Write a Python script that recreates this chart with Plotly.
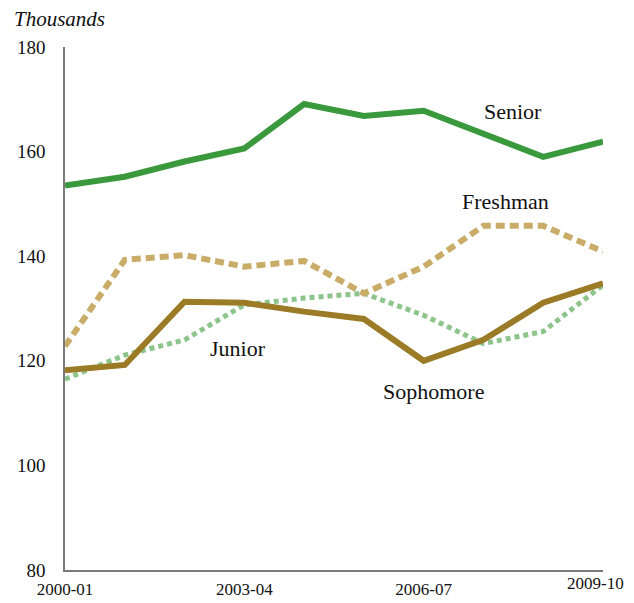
import plotly.graph_objects as go

years = ["2000-01", "2001-02", "2002-03", "2003-04", "2004-05",
         "2005-06", "2006-07", "2007-08", "2008-09", "2009-10"]
senior = [153.5, 155.2, 158.1, 160.6, 169.1, 166.8, 167.8, 163.5, 159.0, 161.9]
freshman = [122.8, 139.3, 140.2, 138.0, 139.1, 132.9, 138.0, 145.8, 145.8, 140.9]
sophomore = [118.2, 119.2, 131.3, 131.1, 129.4, 128.0, 120.0, 124.0, 131.1, 134.8]
junior = [116.5, 121.1, 124.0, 130.7, 132.0, 132.9, 128.7, 123.3, 125.6, 134.5]
tick_years = ["2000-01", "2003-04", "2006-07", "2009-10"]
y_ticks = [80, 100, 120, 140, 160, 180]

xs = list(range(len(years)))
FONT = "Liberation Serif"

fig = go.Figure()
fig.add_trace(go.Scatter(x=xs, y=junior, mode="lines", name="Junior",
                         line=dict(color="#8cc48c", width=5, dash="5px,4px")))
fig.add_trace(go.Scatter(x=xs, y=freshman, mode="lines", name="Freshman",
                         line=dict(color="#c9ac68", width=6, dash="9px,5px")))
fig.add_trace(go.Scatter(x=xs, y=sophomore, mode="lines", name="Sophomore",
                         line=dict(color="#9b7b26", width=6)))
fig.add_trace(go.Scatter(x=xs, y=senior, mode="lines", name="Senior",
                         line=dict(color="#3a993c", width=6)))

labels = [("Senior", 7.49, 167.6), ("Freshman", 7.37, 150.4),
          ("Junior", 2.89, 122.3), ("Sophomore", 6.17, 114.2)]
for text, lx, ly in labels:
    fig.add_annotation(x=lx, y=ly, text=text, showarrow=False,
                       font=dict(family=FONT, size=22, color="#111"))

fig.add_annotation(xref="paper", yref="paper", x=-0.0985, y=1.0, yshift=14,
                   text="<i>Thousands</i>", showarrow=False, xanchor="left",
                   yanchor="bottom",
                   font=dict(family=FONT, size=21, color="#111"))

# last x tick label kept inside the visible page edge
last = tick_years[-1]
fig.add_annotation(x=years.index(last), xref="x", y=0, yref="paper",
                   text=last, showarrow=False, xanchor="right", yanchor="top",
                   xshift=23, yshift=-2,
                   font=dict(family=FONT, size=17, color="#111"))
tick_text = [t if t != last else "" for t in tick_years]

fig.update_layout(
    width=626, height=595,
    margin=dict(l=57, r=31, t=39, b=33, autoexpand=False),
    plot_bgcolor="white", paper_bgcolor="white",
    showlegend=False,
    font=dict(family=FONT, size=19, color="#111"),
    xaxis=dict(range=[0, 9], tickmode="array",
               tickvals=[years.index(t) for t in tick_years], ticktext=tick_text,
               tickfont=dict(size=17),
               showgrid=False, zeroline=False, showline=True, automargin=False,
               ticklabeloverflow="allow",
               linecolor="#7a7a7a", linewidth=1.5, ticks="", ticklabelstandoff=3),
    yaxis=dict(range=[80, 180], tickmode="array", tickvals=y_ticks,
               showgrid=False, zeroline=False, showline=True, automargin=False,
               ticklabeloverflow="allow",
               linecolor="#7a7a7a", linewidth=1.5, ticks="", ticklabelstandoff=14),
)

fig.write_html("out.html")
